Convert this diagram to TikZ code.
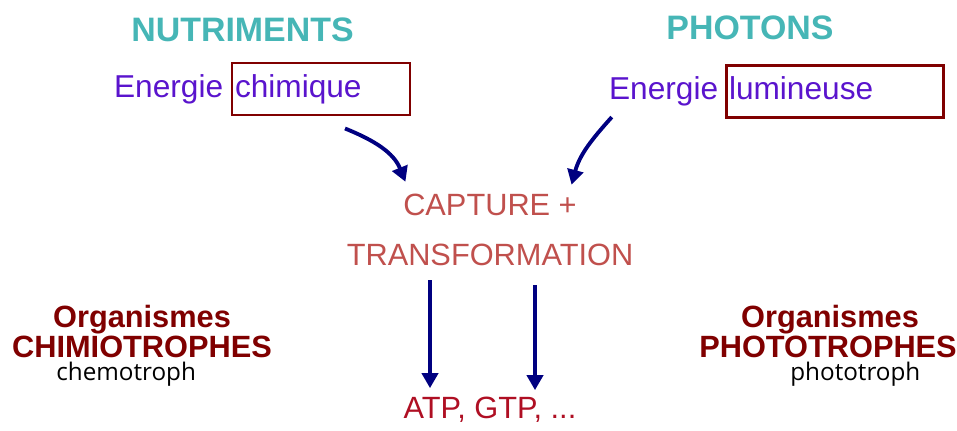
\documentclass[tikz,border=0pt]{standalone}
\usepackage{fontspec}
\setmainfont{Liberation Sans}
\newfontfamily\notefont{Open Sans}
\usetikzlibrary{arrows.meta,positioning,calc}

\definecolor{teal1}{RGB}{70,182,182}
\definecolor{violet1}{RGB}{90,20,205}
\definecolor{frame1}{RGB}{128,0,0}
\definecolor{navy1}{RGB}{0,0,128}
\definecolor{salmon1}{RGB}{192,80,77}
\definecolor{crimson1}{RGB}{175,15,35}

\begin{document}
\begin{tikzpicture}[
  source/.style={text=teal1, font=\fontsize{19.3}{23}\selectfont\bfseries, inner sep=0pt},
  energy/.style={text=violet1, font=\fontsize{18}{22}\selectfont, inner sep=0pt, text height=0.47cm, text depth=0.14cm},
  framed/.style={energy, draw=frame1, line width=1.7pt, inner xsep=0.06cm, minimum height=1.04cm, align=left},
  process/.style={text=salmon1, font=\fontsize{17.5}{21}\selectfont, inner sep=0pt},
  organism/.style={text=frame1, font=\fontsize{17.5}{21}\selectfont\bfseries, inner sep=0pt},
  note/.style={text=black, font=\notefont\fontsize{13.8}{17}\selectfont, inner sep=0pt},
  flow/.style={draw=navy1, line width=2.2pt, -{Triangle[length=0.3cm,width=0.32cm]}}
]
  \useasboundingbox (0,0) rectangle (19.14,8.6);

  % the two sources
  \node (nutr) [source] at (4.85,8.0) {NUTRIMENTS};
  \node (phot) [source] at (15.0,8.05) {PHOTONS};

  \node (chim) [framed, text width=3.44cm] at (6.42,6.82) {chimique};
  \node (en1) [energy, left=0.14cm of chim] {Energie};
  \node (lum) [framed, text width=4.22cm] at (16.69,6.77) {lumineuse};
  \node (en2) [energy, left=0.12cm of lum] {Energie};

  % middle
  \node (capt) [process] at (9.8,4.5) {CAPTURE +};
  \node (transf) [process] at (9.8,3.5) {TRANSFORMATION};
  \node (atp) [process, text=crimson1, anchor=base] at (9.8,0.24) {ATP, GTP, ...};

  % organisms
  \node (org1) [organism, anchor=base] at (2.84,2.06) {Organismes};
  \node (chimio) [organism, anchor=base] at (2.84,1.46) {CHIMIOTROPHES};
  \node (chemo) [note, anchor=base west] at (1.12,0.99) {chemotroph};
  \node (org2) [organism, anchor=base] at (16.6,2.06) {Organismes};
  \node (photo) [organism, anchor=base] at (16.56,1.46) {PHOTOTROPHES};
  \node (photot) [note, anchor=base west] at (15.8,0.99) {phototroph};

  \draw [flow] ($(chim.south)+(0.48,-0.24)$) to[out=-22,in=112] ($(capt.north west)+(0.05,0.24)$);
  \draw [flow] ($(en2.south west)+(0.06,-0.2)$) to[out=228,in=75] ($(capt.north east)+(-0.11,0.18)$);
  \draw [flow] ($(transf.south)+(-1.2,-0.28)$) -- ($(atp.north)+(-1.2,0.16)$);
  \draw [flow] ($(transf.south)+(0.9,-0.38)$) -- ($(atp.north)+(0.9,0.12)$);
\end{tikzpicture}
\end{document}
